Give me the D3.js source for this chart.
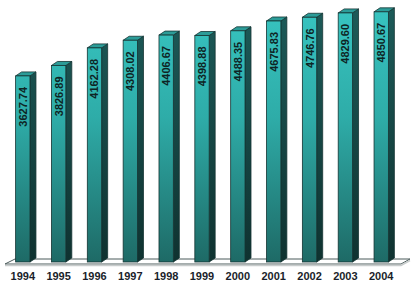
<!DOCTYPE html>
<html>
<head>
<meta charset="utf-8">
<script src="https://cdn.jsdelivr.net/npm/d3@7"></script>
<style>
  body { margin: 0; background: #fff; }
  svg { display: block; }
</style>
</head>
<body>
<script>
const years = ['1994', '1995', '1996', '1997', '1998', '1999', '2000', '2001', '2002', '2003', '2004'];
const values = [3627.74, 3826.89, 4162.28, 4308.02, 4406.67, 4398.88, 4488.35, 4675.83, 4746.76, 4829.60, 4850.67];
const valueLabels = ['3627.74', '3826.89', '4162.28', '4308.02', '4406.67', '4398.88', '4488.35', '4675.83', '4746.76', '4829.60', '4850.67'];

const W = 412, H = 286;
const floorY = 262;
const dx = 6, dy = 4; // depth of the 3d look

let svg = d3.select('body')
  .append('svg')
  .attr('width', W)
  .attr('height', H);

let defs = svg.append('defs');

let front = defs.append('linearGradient')
  .attr('id', 'front')
  .attr('gradientUnits', 'userSpaceOnUse')
  .attr('x1', 0).attr('y1', 0).attr('x2', 0).attr('y2', floorY);
front.append('stop').attr('offset', '0%').attr('stop-color', '#38c6c2');
front.append('stop').attr('offset', '45%').attr('stop-color', '#2eaca8');
front.append('stop').attr('offset', '100%').attr('stop-color', '#1e6a66');

let side = defs.append('linearGradient')
  .attr('id', 'side')
  .attr('gradientUnits', 'userSpaceOnUse')
  .attr('x1', 0).attr('y1', 0).attr('x2', 0).attr('y2', floorY);
side.append('stop').attr('offset', '0%').attr('stop-color', '#1d5c5a');
side.append('stop').attr('offset', '100%').attr('stop-color', '#0f3230');

let x = d3.scaleBand()
  .domain(years)
  .range([2, 402])
  .paddingInner(0.6)
  .paddingOuter(0.38);

let y = d3.scaleLinear()
  .domain([0, 5000])
  .range([266, 4]);

// floor slab
const fl = 5, fr = 401;
svg.append('path')
  .attr('d', `M${fl},${floorY + 2} L${fl + 10},${floorY - 3} L${fr + 9},${floorY - 3} L${fr},${floorY + 2} Z`)
  .attr('fill', '#fff')
  .attr('stroke', '#4a5a5a')
  .attr('stroke-width', 1);
svg.append('path')
  .attr('d', `M${fl},${floorY + 3.5} L${fr},${floorY + 3.5} L${fr + 9},${floorY - 1.5}`)
  .attr('fill', 'none')
  .attr('stroke', '#c8cccc')
  .attr('stroke-width', 1.5);

let data = years.map((yr, i) => ({ year: yr, value: values[i], label: valueLabels[i] }));

let bar = svg.selectAll('.bar')
  .data(data)
  .enter()
  .append('g')
  .attr('class', 'bar');

const bottom = floorY;

// side face
bar.append('path')
  .attr('d', (d) => {
    let x1 = x(d.year) + x.bandwidth(), t = y(d.value);
    return `M${x1},${t} L${x1 + dx},${t - dy} L${x1 + dx},${bottom - dy} L${x1},${bottom} Z`;
  })
  .attr('fill', 'url(#side)')
  .attr('stroke', '#143432')
  .attr('stroke-width', 0.8);

// top face
bar.append('path')
  .attr('d', (d) => {
    let x0 = x(d.year), x1 = x0 + x.bandwidth(), t = y(d.value);
    return `M${x0},${t} L${x0 + dx},${t - dy} L${x1 + dx},${t - dy} L${x1},${t} Z`;
  })
  .attr('fill', '#2c9c98')
  .attr('stroke', '#143432')
  .attr('stroke-width', 0.8);

// front face
bar.append('rect')
  .attr('x', (d) => x(d.year))
  .attr('y', (d) => y(d.value))
  .attr('width', x.bandwidth())
  .attr('height', (d) => bottom - y(d.value))
  .attr('fill', 'url(#front)')
  .attr('stroke', '#143432')
  .attr('stroke-width', 0.8);

// value labels, rotated
bar.append('text')
  .attr('transform', (d) => `translate(${x(d.year) + x.bandwidth() / 2 + 4}, ${y(d.value) + 11}) rotate(-90)`)
  .attr('text-anchor', 'end')
  .attr('font-family', 'Liberation Sans, Arial, sans-serif')
  .attr('font-size', 11)
  .attr('font-weight', 'bold')
  .attr('fill', '#0e2424')
  .text((d) => d.label);

// year axis labels
svg.selectAll('.year')
  .data(years)
  .enter()
  .append('text')
  .attr('class', 'year')
  .attr('x', (d) => x(d) + x.bandwidth() / 2)
  .attr('y', 280)
  .attr('text-anchor', 'middle')
  .attr('font-family', 'Liberation Sans, Arial, sans-serif')
  .attr('font-size', 11)
  .attr('font-weight', 'bold')
  .attr('fill', '#1a1e2a')
  .text((d) => d);
</script>
</body>
</html>
